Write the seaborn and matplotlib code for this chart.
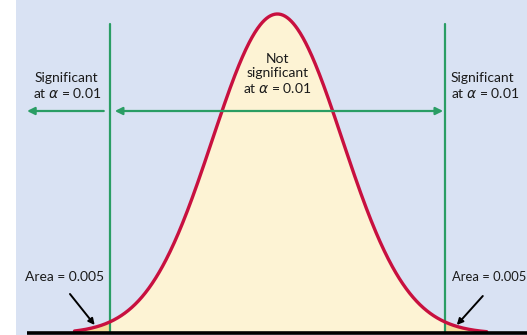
import numpy as np
import pandas as pd
import matplotlib
matplotlib.use("Agg")
import matplotlib.pyplot as plt
import seaborn as sns

# ---- data ----
mean = 0.0
sd = 1.0
crit = [-2.576, 2.576]           # critical z values at alpha = 0.01 (two-tailed)
curve_range = [-3.12, 3.22]
side_labels = ["Significant\nat $\\alpha$ = 0.01", "Not\nsignificant\nat $\\alpha$ = 0.01", "Significant\nat $\\alpha$ = 0.01"]
area_labels = ["Area = 0.005", "Area = 0.005"]

z = np.linspace(curve_range[0], curve_range[1], 600)
pdf = np.exp(-0.5 * ((z - mean) / sd) ** 2) / (sd * np.sqrt(2 * np.pi))
df = pd.DataFrame({"z": z, "density": pdf})

sns.set_theme(style="white")
plt.rcParams["font.family"] = ["Lato", "DejaVu Sans"]

BG = "#d9e2f3"
RED = "#c8103f"
GREEN = "#2a9d64"
PALE = "#fdf3d4"
TAIL = "#f4dc9c"

fig = plt.figure(figsize=(5.27, 3.35), dpi=100)
fig.patch.set_facecolor("white")
ax = fig.add_axes([16 / 527, 0, 511 / 527, 1])
ax.set_facecolor(BG)

# fills
mid = (df.z >= crit[0]) & (df.z <= crit[1])
ax.fill_between(df.z[mid], 0, df.density[mid], color=PALE, lw=0)
ax.fill_between(df.z[df.z <= crit[0]], 0, df.density[df.z <= crit[0]], color=TAIL, lw=0)
ax.fill_between(df.z[df.z >= crit[1]], 0, df.density[df.z >= crit[1]], color=TAIL, lw=0)

# critical lines
for c in crit:
    ax.plot([c, c], [0, 0.3864], color=GREEN, lw=1.6, zorder=2)

sns.lineplot(data=df, x="z", y="density", color=RED, lw=2.4, ax=ax, zorder=3)

# baseline
ax.plot([-3.85, 3.9], [0, 0], color="black", lw=2.6, zorder=4, solid_capstyle="butt")

# green arrows
ya = 0.2778
ax.annotate("", xy=(-3.85, ya), xytext=(-2.67, ya),
            arrowprops=dict(arrowstyle="-|>", color=GREEN, lw=1.6, mutation_scale=11, shrinkA=0, shrinkB=0))
ax.annotate("", xy=(-2.50, ya), xytext=(2.55, ya),
            arrowprops=dict(arrowstyle="<|-|>", color=GREEN, lw=1.6, mutation_scale=11, shrinkA=0, shrinkB=0))
ax.annotate("", xy=(3.86, ya), xytext=(2.68, ya),
            arrowprops=dict(arrowstyle="-|>", color=GREEN, lw=1.6, mutation_scale=11, shrinkA=0, shrinkB=0))

tkw = dict(color="#1a1a1a", linespacing=1.2)
ax.text(-3.24, 0.309, side_labels[0], ha="center", va="center", fontsize=10, **tkw)
ax.text(0.0, 0.324, side_labels[1], ha="center", va="center", fontsize=10, **tkw)
ax.text(2.67, 0.309, side_labels[2], ha="left", va="center", fontsize=10, **tkw)

ax.text(-3.28, 0.0705, area_labels[0], ha="center", va="center", fontsize=10, **tkw)
ax.text(3.83, 0.0705, area_labels[1], ha="right", va="center", fontsize=9.4, **tkw)

ax.annotate("", xy=(-2.81, 0.0106), xytext=(-3.19, 0.0493),
            arrowprops=dict(arrowstyle="-|>", color="black", lw=1.4, mutation_scale=9, shrinkA=0, shrinkB=0))
ax.annotate("", xy=(2.76, 0.0106), xytext=(3.16, 0.0468),
            arrowprops=dict(arrowstyle="-|>", color="black", lw=1.4, mutation_scale=9, shrinkA=0, shrinkB=0))

ax.set_xlim(-4.02, 3.84)
ax.set_ylim(-0.0019, 0.4164)
ax.set_xlabel("")
ax.set_ylabel("")
ax.set_xticks([])
ax.set_yticks([])
for s in ax.spines.values():
    s.set_visible(False)

fig.savefig("out.png", dpi=100, facecolor=fig.get_facecolor())
